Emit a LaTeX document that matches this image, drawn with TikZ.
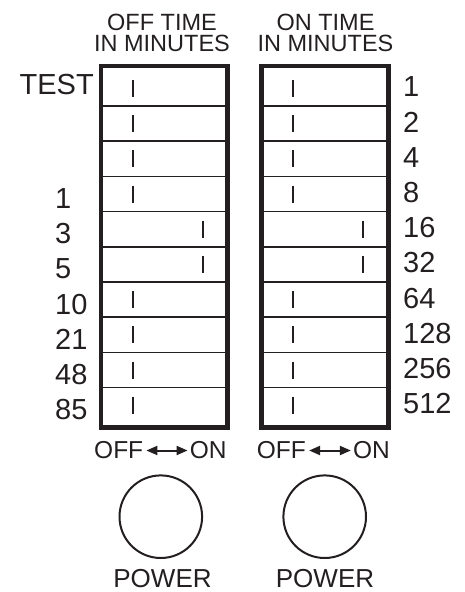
\documentclass[tikz,border=0pt]{standalone}
\usepackage{fontspec}
\setmainfont{Liberation Sans}
\usetikzlibrary{arrows.meta}
\definecolor{ink}{RGB}{35,31,32}
\begin{document}
\begin{tikzpicture}[x=1pt,y=-1pt,
  frame/.style={draw=ink, line width=4.5pt},
  divider/.style={draw=ink, line width=1.7pt},
  switchmark/.style={draw=ink, line width=2.2pt},
  lbl/.style={font=\fontsize{29}{29}\selectfont, text=ink, inner sep=0pt},
  hdr/.style={font=\fontsize{23.5}{23.5}\selectfont, text=ink, inner sep=0pt},
  small/.style={font=\fontsize{24.5}{24.5}\selectfont, text=ink, inner sep=0pt},
  pwr/.style={font=\fontsize{26}{26}\selectfont, text=ink, inner sep=0pt},
  knob/.style={draw=ink, line width=2pt, circle, minimum size=82.6pt, inner sep=0pt},
  dblarrow/.style={draw=ink, line width=2pt, {Triangle[length=11pt,width=9pt]}-{Triangle[length=11pt,width=9pt]}}
]
\useasboundingbox (0,0) rectangle (465,592);

% headers
\node[hdr] (hoff1) at (162,22.5) {OFF TIME};
\node[hdr] (hoff2) at (162,43.5) {IN MINUTES};
\node[hdr] (hon1) at (325.5,22.5) {ON TIME};
\node[hdr] (hon2) at (325.5,43.5) {IN MINUTES};

% frames
\draw[frame] (101,66) rectangle (227.5,427.5);
\draw[frame] (261.7,66) rectangle (388.7,427.5);

% dividers
\foreach \k in {0,...,8} {
  \draw[divider] (101,{106+35.2*\k}) -- (227.5,{106+35.2*\k});
  \draw[divider] (261.7,{106+35.2*\k}) -- (388.7,{106+35.2*\k});
}

% switch marks (0 = off, 1 = on)
\foreach \i/\s in {1/0,2/0,3/0,4/0,5/1,6/1,7/0,8/0,9/0,10/0} {
  \pgfmathsetmacro{\yc}{88.4+35.2*(\i-1)}
  \pgfmathsetmacro{\xl}{\s==1 ? 202.7 : 132.7}
  \pgfmathsetmacro{\xr}{\s==1 ? 363.3 : 293.3}
  \draw[switchmark] (\xl,\yc-8.5) -- (\xl,\yc+8.5);
  \draw[switchmark] (\xr,\yc-8.5) -- (\xr,\yc+8.5);
}

% left labels
\node[lbl, anchor=east] (ltest) at (94,85) {TEST};
\foreach \i/\t in {4/1,5/3,6/5,7/10,8/21,9/48,10/85} {
  \node[lbl, anchor=west] (l\i) at (55,{88.4+35.2*(\i-1)+4.5}) {\t};
}

% right labels
\foreach \i/\t in {1/1,2/2,3/4,4/8,5/16,6/32,7/64,8/128,9/256,10/512} {
  \node[lbl, anchor=west] (r\i) at (403,{88.4+35.2*(\i-1)-1.5}) {\t};
}

% OFF <-> ON
\node[small, anchor=west] (off1) at (94,450) {OFF};
\node[small, anchor=east] (on1) at (226.7,450) {ON};
\draw[dblarrow] ([xshift=3pt,yshift=-0.5pt]off1.east) -- ([xshift=-2pt,yshift=-0.5pt]on1.west);
\node[small, anchor=west] (off2) at (256.7,450) {OFF};
\node[small, anchor=east] (on2) at (390,450) {ON};
\draw[dblarrow] ([xshift=3pt,yshift=-0.5pt]off2.east) -- ([xshift=-2pt,yshift=-0.5pt]on2.west);

% power knobs
\node[knob] (k1) at (160.8,516.7) {};
\node[knob] (k2) at (324.7,516.7) {};
\node[pwr] (p1) at (162.5,579) {POWER};
\node[pwr] (p2) at (325,579) {POWER};
\end{tikzpicture}
\end{document}
